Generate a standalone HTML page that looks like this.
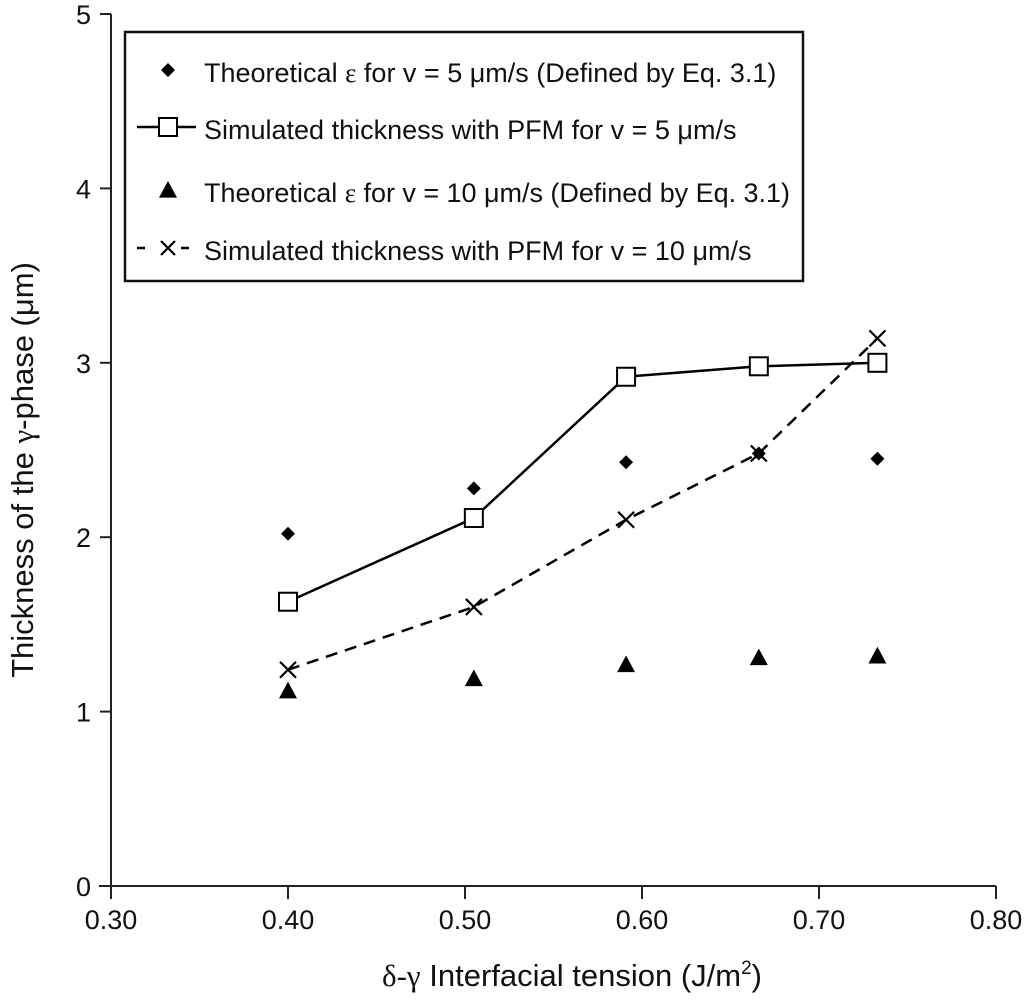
<!DOCTYPE html>
<html><head><meta charset="utf-8">
<style>
html,body{margin:0;padding:0;background:#fff;}
svg{display:block;font-family:"Liberation Sans",sans-serif;}
</style></head>
<body>
<svg id="chart" width="1024" height="1002" viewBox="0 0 1024 1002" xmlns="http://www.w3.org/2000/svg"></svg>
<script>
const xValues = [0.40, 0.505, 0.591, 0.666, 0.733];
const theo5 = [2.02, 2.28, 2.43, 2.48, 2.45];
const sim5 = [1.63, 2.11, 2.92, 2.98, 3.00];
const theo10 = [1.12, 1.19, 1.27, 1.31, 1.32];
const sim10 = [1.24, 1.60, 2.10, 2.48, 3.14];
const xTicks = ["0.30","0.40","0.50","0.60","0.70","0.80"];
const yTicks = ["0","1","2","3","4","5"];

const NS = "http://www.w3.org/2000/svg";
const svg = document.getElementById('chart');
const X0 = 111, X1 = 996, Y0 = 886, Y1 = 14;
function xs(v){ return X0 + (v - 0.30) / 0.50 * (X1 - X0); }
function ys(v){ return Y0 - v / 5 * (Y0 - Y1); }
function el(tag, attrs, parent){
  const e = document.createElementNS(NS, tag);
  for (const k in attrs) e.setAttribute(k, attrs[k]);
  (parent || svg).appendChild(e);
  return e;
}

let a = el('line',{x1:X0,y1:Y1,x2:X0,y2:Y0+13,stroke:'#222','stroke-width':2});


a = el('line',{x1:X0-12,y1:Y0,x2:X1,y2:Y0,stroke:'#222','stroke-width':2});



yTicks.forEach((t,i)=>{
  const y = ys(+t);
  const tk = el('line',{x1:X0-11,y1:y,x2:X0,y2:y,stroke:'#222','stroke-width':2});
  
  
  const tx = el('text',{x:91,y:y+10,'font-size':27,'text-anchor':'end',fill:'#111'});
  tx.textContent = t;
  
  
});
xTicks.forEach((t,i)=>{
  const x = xs(+t);
  const tk = el('line',{x1:x,y1:Y0,x2:x,y2:Y0+13,stroke:'#222','stroke-width':2});
  
  
  const tx = el('text',{x:x,y:929,'font-size':27,'text-anchor':'middle',fill:'#111'});
  tx.textContent = t;
  
  
});

let tt = el('text',{x:572,y:986,'font-size':31,'text-anchor':'middle',fill:'#111'});
tt.innerHTML = '<tspan font-family="Liberation Serif">δ-γ</tspan> Interfacial tension (J/m<tspan font-size="19" dy="-12">2</tspan><tspan dy="12">)</tspan>';


tt = el('text',{x:0,y:0,'font-size':31,'text-anchor':'middle',fill:'#111',transform:'translate(33,470) rotate(-90)'});
tt.innerHTML = 'Thickness of the <tspan font-family="Liberation Serif">γ</tspan>-phase (μm)';



function diamond(cx,cy,s,p){ return el('polygon',{points:`${cx},${cy-s} ${cx+s},${cy} ${cx},${cy+s} ${cx-s},${cy}`,fill:'#000'},p); }
function square(cx,cy,s,p){ return el('rect',{x:cx-s,y:cy-s,width:2*s,height:2*s,fill:'#fff',stroke:'#000','stroke-width':2},p); }
function tri(cx,cy,s,p){ return el('polygon',{points:`${cx},${cy-s} ${cx+s},${cy+s*0.85} ${cx-s},${cy+s*0.85}`,fill:'#000'},p); }
function cross(cx,cy,s,p){ return el('path',{d:`M${cx-s},${cy-s}L${cx+s},${cy+s}M${cx+s},${cy-s}L${cx-s},${cy+s}`,stroke:'#000','stroke-width':2.2,fill:'none'},p); }

function pts(arr){ return arr.map((v,i)=>xs(xValues[i])+','+ys(v)).join(' '); }
let l = el('polyline',{points:pts(sim10),fill:'none',stroke:'#000','stroke-width':2.5,'stroke-dasharray':'12,8'});


l = el('polyline',{points:pts(sim5),fill:'none',stroke:'#000','stroke-width':2.5});



theo5.forEach((v,i)=>{ const m=diamond(xs(xValues[i]),ys(v),7);   });
theo10.forEach((v,i)=>{ const m=tri(xs(xValues[i]),ys(v),9);   });
sim5.forEach((v,i)=>{ const m=square(xs(xValues[i]),ys(v),9);   });
sim10.forEach((v,i)=>{ const m=cross(xs(xValues[i]),ys(v),8);   });

const lg = el('g',{});


el('rect',{x:125,y:32,width:678,height:249,fill:'#fff',stroke:'#111','stroke-width':2.5},lg);
const labels = [
  'Theoretical <tspan font-family="Liberation Serif">ε</tspan> for v = 5 μm/s (Defined by Eq. 3.1)',
  'Simulated thickness with PFM for v = 5 μm/s',
  'Theoretical <tspan font-family="Liberation Serif">ε</tspan> for v = 10 μm/s (Defined by Eq. 3.1)',
  'Simulated thickness with PFM for v = 10 μm/s'];
const rowsY = [73,130,193,251];
const mx = 168;
diamond(mx,rowsY[0]-3,7,lg);
el('line',{x1:137,y1:rowsY[1]-3,x2:196,y2:rowsY[1]-3,stroke:'#000','stroke-width':2.5},lg);
square(mx,rowsY[1]-3,9,lg);
tri(mx,rowsY[2]-3,9,lg);
el('line',{x1:137,y1:rowsY[3]-3,x2:196,y2:rowsY[3]-3,stroke:'#000','stroke-width':2.5,'stroke-dasharray':'8,36'},lg);
cross(mx,rowsY[3]-3,7,lg);
labels.forEach((t,i)=>{
  const e = el('text',{x:204,y:rowsY[i]+9,'font-size':27,fill:'#111',textLength:(i==2?586:null)},lg);
  if(i!=2) e.removeAttribute('textLength');
  e.innerHTML = t;
  
  
});
</script>
</body></html>
